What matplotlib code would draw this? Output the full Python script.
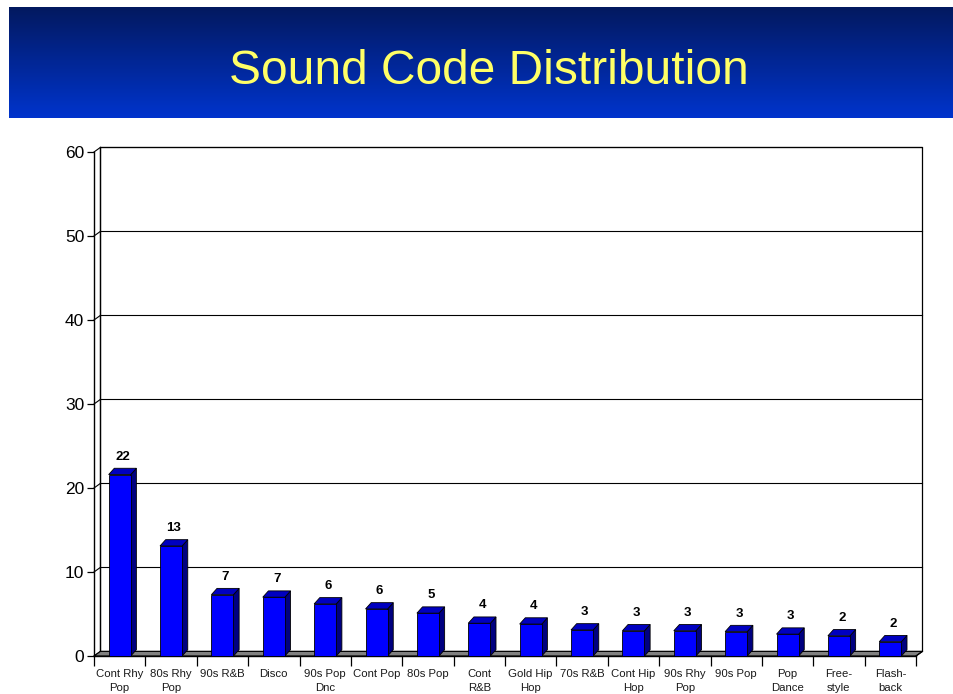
import numpy as np
import matplotlib
matplotlib.use("Agg")
import matplotlib.pyplot as plt
from matplotlib.patches import Polygon, Rectangle

plt.rcParams['font.family'] = ['Liberation Sans', 'DejaVu Sans']

# ---------------- data ----------------
categories = ["Cont Rhy\nPop", "80s Rhy\nPop", "90s R&B", "Disco", "90s Pop\nDnc",
              "Cont Pop", "80s Pop", "Cont\nR&B", "Gold Hip\nHop", "70s R&B",
              "Cont Hip\nHop", "90s Rhy\nPop", "90s Pop", "Pop\nDance", "Free-\nstyle",
              "Flash-\nback"]
values = [21.6, 13.1, 7.3, 7.0, 6.2, 5.6, 5.1, 3.9, 3.8, 3.1, 3.0, 3.0, 2.9, 2.6, 2.4, 1.7]
y_ticks = [0, 10, 20, 30, 40, 50, 60]
title = "Sound Code Distribution"

W, H = 954, 694
fig = plt.figure(figsize=(W / 100, H / 100), dpi=100)
fig.patch.set_facecolor("white")

# ---------------- banner ----------------
bx0, by0, bx1, by1 = 9, 7, 954, 118
bax = fig.add_axes([bx0 / W, 1 - by1 / H, (bx1 - bx0) / W, (by1 - by0) / H])
top_c = np.array([3, 25, 95]) / 255
bot_c = np.array([0, 52, 205]) / 255
t = np.linspace(0, 1, 200)[:, None]
grad = top_c[None, :] * (1 - t) + bot_c[None, :] * t
bax.imshow(grad[:, None, :].repeat(2, axis=1), aspect="auto", extent=[0, 1, 0, 1])
bax.set_axis_off()
fig.text(489 / W, 1 - 84 / H, title, color="#ffff66", fontsize=34.5,
         ha="center", va="baseline")

# ---------------- chart axes ----------------
left, right, y0px, y60px = 94, 916, 656, 152
ax = fig.add_axes([left / W, 1 - y0px / H, (right - left) / W, (y0px - y60px) / H])
n = len(values)
ax.set_xlim(-0.5, n - 0.5)
ax.set_ylim(0, 60)
for s in ["top", "right", "bottom"]:
    ax.spines[s].set_visible(False)
ax.spines["left"].set_linewidth(1.0)
ax.set_facecolor("none")

# depth offsets (data units)
dxw, dyw = 0.125, 0.55   # wall/floor depth
dxb, dyb = 0.11, 0.75    # bar depth
bw = 0.43

x_lo, x_hi = -0.5, n - 0.5
lw = 0.9
# back wall
ax.add_patch(Polygon([(x_lo + dxw, dyw), (x_hi + dxw, dyw), (x_hi + dxw, 60 + dyw),
                      (x_lo + dxw, 60 + dyw)], closed=True, facecolor="white",
                     edgecolor="black", lw=lw, clip_on=False, zorder=1))
# gridlines + left wall diagonals
for yv in y_ticks[1:]:
    ax.plot([x_lo + dxw, x_hi + dxw], [yv + dyw, yv + dyw], color="black", lw=0.8,
            clip_on=False, zorder=1.5)
for yv in y_ticks:
    ax.plot([x_lo, x_lo + dxw], [yv, yv + dyw], color="black", lw=0.8,
            clip_on=False, zorder=1.5)
# left wall back edge
ax.plot([x_lo + dxw, x_lo + dxw], [dyw, 60 + dyw], color="black", lw=lw,
        clip_on=False, zorder=1.6)
# floor
ax.add_patch(Polygon([(x_lo, 0), (x_hi, 0), (x_hi + dxw, dyw), (x_lo + dxw, dyw)],
                     closed=True, facecolor="#808080", edgecolor="black", lw=0.8,
                     clip_on=False, zorder=2))

# bars
for i, v in enumerate(values):
    x0, x1 = i - bw / 2, i + bw / 2
    ax.add_patch(Polygon([(x1, 0), (x1 + dxb, dyb), (x1 + dxb, v + dyb), (x1, v)],
                         closed=True, facecolor="#000080", edgecolor="black", lw=0.6,
                         zorder=3, clip_on=False))
    ax.add_patch(Polygon([(x0, v), (x1, v), (x1 + dxb, v + dyb), (x0 + dxb, v + dyb)],
                         closed=True, facecolor="#0000c0", edgecolor="black", lw=0.6,
                         zorder=3, clip_on=False))
    ax.add_patch(Rectangle((x0, 0), bw, v, facecolor="#0000ff", edgecolor="black",
                           lw=0.6, zorder=3.5, clip_on=False))
    ax.text(i + dxb / 2, v + 2.15, f"{v:.0f}", ha="center", va="center",
            fontsize=9.5, fontweight="bold", color="black", zorder=4)

# y axis ticks
ax.set_yticks(y_ticks)
ax.set_yticklabels([str(v) for v in y_ticks], fontsize=12.5)
ax.tick_params(axis="y", length=5, width=0.9, pad=2, colors="black")

# x axis: boundary ticks (major) and centered labels (minor)
ax.axhline(0, color="black", lw=1.0, zorder=2.5, clip_on=False)
ax.set_xticks(np.arange(n + 1) - 0.5)
ax.set_xticklabels([])
ax.tick_params(axis="x", which="major", length=7, width=0.9, direction="out")
ax.set_xticks(np.arange(n), minor=True)
ax.set_xticklabels(categories, minor=True, fontsize=8.2, color="#1a1a1a",
                   linespacing=1.45)
ax.tick_params(axis="x", which="minor", length=0, pad=9.5)
# right end diagonal of floor
ax.plot([x_hi, x_hi + dxw], [0, dyw], color="black", lw=0.9, clip_on=False, zorder=2.6)

fig.savefig("out.png", dpi=100)
